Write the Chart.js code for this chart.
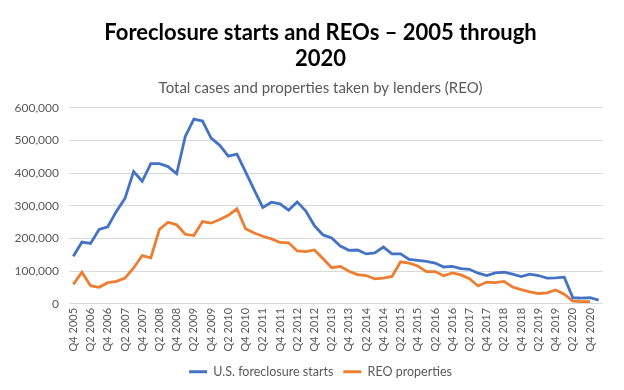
<!DOCTYPE html>
<html>
<head>
<meta charset="UTF-8"/>
<script src="https://cdn.jsdelivr.net/npm/chart.js@4.4.0/dist/chart.umd.min.js"></script>
<style>
  body { margin: 0; background: #fff; }
</style>
</head>
<body>
<canvas id="chart" width="624" height="390"></canvas>
<script>
// quarterly categories, Q4 2005 .. Q1 2021
const quarters = [
  'Q4 2005','Q1 2006','Q2 2006','Q3 2006','Q4 2006','Q1 2007','Q2 2007','Q3 2007','Q4 2007',
  'Q1 2008','Q2 2008','Q3 2008','Q4 2008','Q1 2009','Q2 2009','Q3 2009','Q4 2009',
  'Q1 2010','Q2 2010','Q3 2010','Q4 2010','Q1 2011','Q2 2011','Q3 2011','Q4 2011',
  'Q1 2012','Q2 2012','Q3 2012','Q4 2012','Q1 2013','Q2 2013','Q3 2013','Q4 2013',
  'Q1 2014','Q2 2014','Q3 2014','Q4 2014','Q1 2015','Q2 2015','Q3 2015','Q4 2015',
  'Q1 2016','Q2 2016','Q3 2016','Q4 2016','Q1 2017','Q2 2017','Q3 2017','Q4 2017',
  'Q1 2018','Q2 2018','Q3 2018','Q4 2018','Q1 2019','Q2 2019','Q3 2019','Q4 2019',
  'Q1 2020','Q2 2020','Q3 2020','Q4 2020','Q1 2021'
];

const foreclosureStarts = [
  146000,189000,185000,228000,236000,283000,323000,405000,375000,429000,
  429000,420000,398000,512000,565000,559000,507000,485000,452000,458000,
  404000,349000,295000,311000,306000,287000,312000,284000,239000,211000,
  202000,177000,164000,165000,153000,156000,174000,153000,153000,136000,
  133000,130000,125000,113000,115000,108000,106000,94000,87000,95000,
  97000,91000,84000,91000,87000,79000,80000,82000,19000,18000,
  19000,12000
];

const reoProperties = [
  60000,97000,56000,51000,65000,69000,79000,110000,148000,141000,
  228000,250000,242000,213000,209000,252000,247000,258000,271000,291000,
  230000,217000,207000,199000,188000,187000,162000,160000,165000,138000,
  111000,115000,100000,90000,87000,77000,79000,84000,129000,125000,
  116000,99000,99000,86000,95000,89000,77000,55000,67000,65000,
  69000,52000,44000,37000,32000,34000,43000,30000,9000,7000,
  7000
];

const yMax = 600000;
const yStep = 100000;

const grey = '#595959';
const font = 'Lato';

// y labels hang left of the narrow axis box, so widen its label clip
const yLabelRoom = {
  id: 'yLabelRoom',
  afterLayout(chart) { chart.scales.y.left = 0; }
};

const ctx = document.getElementById('chart').getContext('2d');
new Chart(ctx, {
  type: 'line',
  data: {
    labels: quarters,
    datasets: [
      {
        label: 'U.S. foreclosure starts',
        data: foreclosureStarts,
        borderColor: '#4472C4',
        backgroundColor: '#4472C4',
        borderWidth: 2.8,
        pointRadius: 0,
        tension: 0,
        fill: false
      },
      {
        label: 'REO properties',
        data: reoProperties,
        borderColor: '#ED7D31',
        backgroundColor: '#ED7D31',
        borderWidth: 2.8,
        pointRadius: 0,
        tension: 0,
        fill: false
      }
    ]
  },
  plugins: [yLabelRoom],
  options: {
    responsive: false,
    animation: false,
    layout: { padding: { top: 9, left: 38, right: 21, bottom: 2 } },
    plugins: {
      title: {
        display: true,
        text: ['Foreclosure starts and REOs \u2013 2005 through', '2020'],
        color: '#000',
        font: { family: font, size: 22, weight: 'bold', lineHeight: 1.22 },
        padding: { top: 10, bottom: 3 }
      },
      subtitle: {
        display: true,
        text: 'Total cases and properties taken by lenders (REO)',
        color: grey,
        font: { family: font, size: 15 },
        padding: { top: 3, bottom: 11 }
      },
      legend: {
        position: 'bottom',
        labels: {
          usePointStyle: true,
          pointStyle: 'line',
          pointStyleWidth: 18,
          color: grey,
          font: { family: font, size: 12.5 },
          padding: 10
        }
      },
      tooltip: { enabled: false }
    },
    scales: {
      x: {
        offset: true,
        grid: { display: false, drawTicks: false },
        border: { display: false },
        ticks: {
          autoSkip: false,
          maxRotation: 90,
          minRotation: 90,
          padding: 4,
          color: grey,
          font: { family: font, size: 11 },
          callback: function(value, index) {
            return index % 2 === 0 ? quarters[index] : '';
          }
        }
      },
      y: {
        min: 0,
        max: yMax,
        border: { display: false },
        grid: { color: '#d9d9d9', drawTicks: false },
        afterFit: function(scale) { scale.width = 31; },
        ticks: {
          stepSize: yStep,
          padding: 10,
          color: grey,
          font: { family: font, size: 12 },
          callback: function(value) {
            return value.toLocaleString('en-US');
          }
        }
      }
    }
  }
});
</script>
</body>
</html>
